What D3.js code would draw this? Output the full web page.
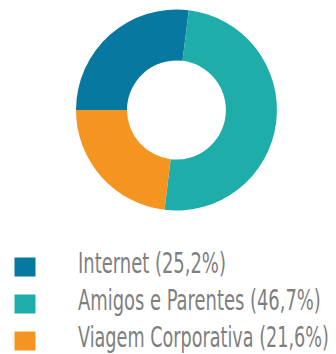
<!DOCTYPE html>
<html>
<head>
<meta charset="utf-8">
<script src="https://cdn.jsdelivr.net/npm/d3@7"></script>
<style>
  html, body { margin: 0; padding: 0; background: #fff; }
  svg { display: block; }
</style>
</head>
<body>
<svg id="chart" width="336" height="354"></svg>
<script>
// Origem dos turistas por forma de organização da viagem
const categories = ["Internet", "Amigos e Parentes", "Viagem Corporativa"];
const values = [25.2, 46.7, 21.6];
const colors = ["#0778a0", "#1fadaa", "#f59521"];
const labels = ["Internet (25,2%)", "Amigos e Parentes (46,7%)", "Viagem Corporativa (21,6%)"];
const labelWidths = [148, 243, 251];

const svg = d3.select("#chart");

const cx = 176.5, cy = 110, outerR = 100.5, innerR = 49.5;

const pie = d3.pie()
  .sort(null)
  .value(d => d)
  .startAngle(-Math.PI / 2)
  .endAngle(1.5 * Math.PI);

const arc = d3.arc().innerRadius(innerR).outerRadius(outerR);

svg.append("g")
  .attr("transform", `translate(${cx},${cy})`)
  .selectAll("path")
  .data(pie(values))
  .join("path")
  .attr("d", arc)
  .attr("fill", (d, i) => colors[i]);

// Legenda
const y = d3.scalePoint().domain(categories).range([273, 347]);

const legend = svg.append("g")
  .selectAll("g")
  .data(categories)
  .join("g")
  .attr("transform", d => `translate(0,${y(d)})`);

legend.append("rect")
  .attr("x", 14.5)
  .attr("y", -15.5)
  .attr("width", 21)
  .attr("height", 19)
  .attr("fill", (d, i) => colors[i]);

// Texto estreito: fonte condensada comprimida na horizontal
legend.append("text")
  .attr("x", 0)
  .attr("y", 0)
  .attr("font-family", "'DejaVu Sans Condensed', 'Liberation Sans Narrow', sans-serif")
  .attr("font-size", 29)
  .attr("fill", "#7f7f7f")
  .text((d, i) => labels[i])
  .attr("transform", function (d, i) {
    const w = this.getComputedTextLength();
    return `translate(78,0) scale(${labelWidths[i] / w},1)`;
  });
</script>
</body>
</html>
